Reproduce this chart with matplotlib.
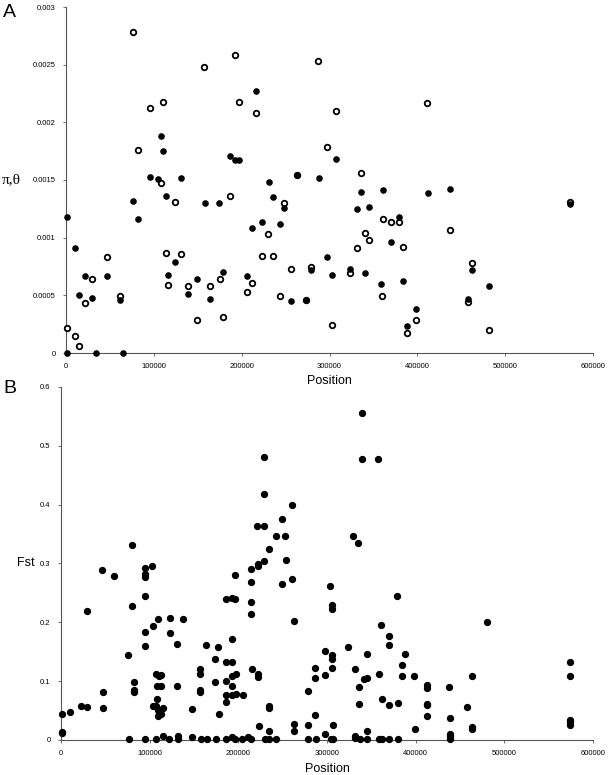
import matplotlib
matplotlib.use("Agg")
import matplotlib.pyplot as plt
from matplotlib.ticker import FuncFormatter, MultipleLocator

plt.rcParams['font.family'] = ['Liberation Sans', 'DejaVu Sans']

# panel A: nucleotide diversity (filled = pi, open = theta)
pi_pos = [800, 10500, 15000, 22200, 30100, 47100, 61400, 76100, 81700, 96000,
          104700, 108100, 110000, 113400, 115600, 124300, 131400, 139300, 149200, 157900,
          163900, 174400, 179300, 186800, 192900, 197400, 206000, 211700, 215800, 223700,
          230900, 235400, 244100, 248000, 256100, 263300, 272700, 279500, 287800, 297500,
          303200, 307400, 323600, 331100, 336400, 340900, 344700, 359000, 360800, 369900,
          379300, 383900, 388700, 398100, 411700, 437000, 457300, 462500, 481700, 574000,
          800, 34700, 64700]
pi_val = [0.00118, 0.00091, 0.0005, 0.00067, 0.00048, 0.00067, 0.00046, 0.00132, 0.00116, 0.00153,
          0.00151, 0.00188, 0.00175, 0.00136, 0.00068, 0.00079, 0.00152, 0.00051, 0.00064, 0.0013,
          0.00047, 0.0013, 0.0007, 0.00171, 0.00167, 0.00167, 0.00067, 0.00108, 0.00227, 0.00114,
          0.00148, 0.00135, 0.00112, 0.00126, 0.00045, 0.00154, 0.00046, 0.00072, 0.00152, 0.00083,
          0.00068, 0.00168, 0.00073, 0.00125, 0.0014, 0.00069, 0.00127, 0.0006, 0.00141, 0.00096,
          0.00118, 0.00062, 0.00023, 0.00038, 0.00139, 0.00142, 0.00047, 0.00072, 0.00058, 0.00129,
          0.0, 0.0, 0.0]

theta_pos = [800, 10500, 15000, 22200, 30100, 47100, 61400, 76100, 82100, 96000,
             107700, 110000, 113400, 115600, 124300, 131400, 139300, 149200, 157400, 163900,
             175200, 179300, 186800, 192900, 197400, 206000, 211700, 215800, 223700, 229700,
             235400, 244100, 248000, 256100, 263300, 272700, 279500, 287000, 297500, 303200,
             307400, 323600, 331100, 336400, 340900, 344700, 359300, 360800, 369900, 379300,
             383400, 388700, 398100, 411300, 437000, 457300, 462500, 481700, 574000]
theta_val = [0.00022, 0.00015, 0.00006, 0.00043, 0.00064, 0.00083, 0.00049, 0.00278, 0.00176, 0.00212,
             0.00147, 0.00218, 0.00087, 0.00059, 0.00131, 0.00086, 0.00058, 0.00029, 0.00248, 0.00058,
             0.00064, 0.00031, 0.00136, 0.00258, 0.00218, 0.00053, 0.00061, 0.00208, 0.00084, 0.00103,
             0.00084, 0.00049, 0.0013, 0.00073, 0.00154, 0.00046, 0.00075, 0.00253, 0.00179, 0.00024,
             0.0021, 0.00069, 0.00091, 0.00156, 0.00104, 0.00098, 0.00049, 0.00116, 0.00114, 0.00114,
             0.00092, 0.00017, 0.00029, 0.00217, 0.00107, 0.00044, 0.00078, 0.0002, 0.00131]

# panel B: Fst
fst_pos = [229300, 229300, 261000, 249400, 221400, 229300, 242300, 253100, 234400, 80600,
           229300, 253500, 222300, 222300, 214300, 46700, 59700, 94800, 103000, 94800,
           94800, 196300, 261000, 339000, 339000, 357300, 329600, 335300,
           214300, 249400, 28800, 80600, 94800, 185900, 192600, 196800, 214300, 214300,
           262400, 109000, 103800, 122800, 122800, 138100, 94800, 94800, 130300, 192600,
           163500, 177300, 173600, 75800, 156800, 156800, 185900, 192600, 215000, 222500,
           222500, 197100, 192600, 185900, 173900, 192600, 192600, 197100, 205300, 185900,
           185900, 178100, 156800, 156800, 147800, 130300,
           107200, 110100, 112300, 108600, 112300, 108600, 103400, 107200, 109400, 110900,
           112300, 109400, 115400, 81800, 81800, 82500, 47000, 47000, 800, 10400,
           22400, 29500, 800, 1100, 234900, 234900, 223700, 234900, 262400, 262400,
           278500, 278500, 287000, 287000, 287000,
           303200, 306100, 306100, 378600, 360600, 369600, 369600, 480800, 323700, 297600,
           306100, 306100, 345000, 388300, 306100, 331200, 384500, 574600, 359200, 297600,
           384500, 398000, 463700, 574600, 345000, 341300, 336000, 413300, 413300, 437100,
           362500, 336000, 369600, 379700, 413300, 413300, 457700, 413300, 438700, 306900,
           297600, 345000, 399100, 463300, 463300, 574600, 574600, 574600, 438700, 438700,
           331200, 331200,
           76500, 95200, 107200, 122100, 131400, 157600, 165000, 174400, 185600, 196800,
           204200, 214700, 230400, 234100, 242700, 278900, 287800, 304300, 307200, 336800,
           345300, 358400, 362500, 369600, 379700, 438700,
           114600, 131400, 148200, 193000, 210900]
fst_val = [0.481, 0.418, 0.400, 0.375, 0.364, 0.364, 0.346, 0.347, 0.324, 0.331,
           0.304, 0.306, 0.300, 0.295, 0.291, 0.289, 0.279, 0.293, 0.295, 0.283,
           0.277, 0.281, 0.274, 0.555, 0.478, 0.478, 0.346, 0.334,
           0.268, 0.265, 0.220, 0.228, 0.244, 0.239, 0.241, 0.239, 0.234, 0.214,
           0.202, 0.206, 0.194, 0.207, 0.182, 0.206, 0.183, 0.160, 0.163, 0.171,
           0.162, 0.158, 0.138, 0.145, 0.121, 0.112, 0.132, 0.132, 0.121, 0.112,
           0.107, 0.113, 0.109, 0.100, 0.099, 0.091, 0.077, 0.078, 0.076, 0.076,
           0.065, 0.044, 0.085, 0.082, 0.053, 0.091,
           0.112, 0.109, 0.110, 0.091, 0.092, 0.069, 0.058, 0.057, 0.051, 0.046,
           0.045, 0.040, 0.054, 0.099, 0.085, 0.081, 0.082, 0.055, 0.045, 0.048,
           0.058, 0.056, 0.014, 0.012, 0.057, 0.055, 0.024, 0.016, 0.027, 0.016,
           0.084, 0.026, 0.123, 0.106, 0.043,
           0.262, 0.230, 0.222, 0.244, 0.196, 0.176, 0.162, 0.201, 0.158, 0.151,
           0.145, 0.138, 0.147, 0.146, 0.122, 0.121, 0.127, 0.133, 0.113, 0.111,
           0.108, 0.109, 0.109, 0.109, 0.106, 0.103, 0.090, 0.094, 0.088, 0.090,
           0.070, 0.062, 0.059, 0.063, 0.062, 0.060, 0.056, 0.041, 0.038, 0.025,
           0.011, 0.016, 0.018, 0.022, 0.018, 0.034, 0.030, 0.026, 0.010, 0.006,
           0.007, 0.004,
           0.001, 0.001, 0.001, 0.001, 0.001, 0.001, 0.001, 0.001, 0.001, 0.001,
           0.001, 0.001, 0.001, 0.001, 0.001, 0.001, 0.001, 0.001, 0.001, 0.001,
           0.001, 0.001, 0.001, 0.001, 0.001, 0.001,
           0.007, 0.007, 0.005, 0.005, 0.005]

W, H = 609, 775
fig = plt.figure(figsize=(W / 100, H / 100), dpi=100)


def style_axes(ax):
    for side in ['top', 'right']:
        ax.spines[side].set_visible(False)
    for side in ['left', 'bottom']:
        ax.spines[side].set_color('#555555')
        ax.spines[side].set_linewidth(0.8)
    ax.tick_params(direction='out', length=2.5, width=0.6, color='#555555',
                   labelsize=5.5, pad=5)
    ax.set_xlim(0, 600000)
    ax.xaxis.set_major_locator(MultipleLocator(100000))
    ax.xaxis.set_major_formatter(FuncFormatter(lambda v, p: '%g' % v))
    ax.yaxis.set_major_formatter(FuncFormatter(lambda v, p: '%g' % round(v, 6)))


# panel A
axA = fig.add_axes([66 / W, 1 - 353 / H, 527 / W, 346 / H])
style_axes(axA)
axA.set_ylim(0, 0.003)
axA.yaxis.set_major_locator(MultipleLocator(0.0005))
axA.scatter(theta_pos, theta_val, s=16, facecolors='white', edgecolors='black',
            linewidths=1.3, clip_on=False, zorder=3)
axA.scatter(pi_pos, pi_val, s=14, marker='o', color='black', clip_on=False, zorder=4)
axA.set_xlabel('Position', fontsize=9)
axA.xaxis.set_label_coords(0.5, -0.064)
axA.set_ylabel('π,θ', fontsize=11, family=['Liberation Serif', 'DejaVu Serif'],
               rotation=0, ha='center', va='center')
axA.yaxis.set_label_coords(-0.103, 0.5)

# panel B
axB = fig.add_axes([61 / W, 1 - 740 / H, 532 / W, 353 / H])
style_axes(axB)
axB.set_ylim(0, 0.6)
axB.yaxis.set_major_locator(MultipleLocator(0.1))
axB.scatter(fst_pos, fst_val, s=18, color='black', clip_on=False, zorder=3)
axB.set_xlabel('Position', fontsize=9)
axB.xaxis.set_label_coords(0.5, -0.065)
axB.set_ylabel('Fst', fontsize=9, rotation=0, ha='center', va='center')
axB.yaxis.set_label_coords(-0.067, 0.5)

fig.text(3 / W, 1 - 4 / H, 'A', fontsize=14, va='top', ha='left')
fig.text(3 / W, 1 - 380 / H, 'B', fontsize=14, va='top', ha='left')

fig.savefig('out.png', dpi=100, facecolor='white')
